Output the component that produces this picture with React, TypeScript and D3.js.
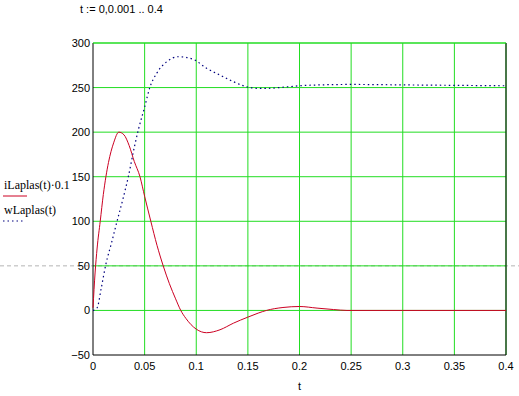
import React from 'react';
import { scaleLinear, line, curveMonotoneX } from 'd3';

// t values and readings of iLaplas(t)*0.1 (red, solid)
const tI = [0, 0.002, 0.004, 0.007, 0.01, 0.0125, 0.015, 0.02, 0.025, 0.03, 0.035, 0.04, 0.0455, 0.05, 0.056, 0.062, 0.068, 0.074, 0.08, 0.085, 0.09, 0.1, 0.11, 0.123, 0.136, 0.15, 0.16, 0.168, 0.184, 0.2, 0.217, 0.233, 0.246, 0.3, 0.4];
const iLaplas = [3, 42, 70, 100, 130, 150, 166, 188, 200, 197, 185, 167, 150, 128, 100, 73, 50, 30, 13, 0, -9, -21, -25, -21.7, -14.3, -7.5, -3, 0, 3.3, 4.4, 2.6, 1, 0, 0, 0];

// t values and readings of wLaplas(t) (blue, dotted)
const tW = [0, 0.004, 0.008, 0.0123, 0.018, 0.0235, 0.029, 0.0342, 0.04, 0.044, 0.05, 0.055, 0.0617, 0.0714, 0.0826, 0.0971, 0.11, 0.123, 0.136, 0.147, 0.1585, 0.17, 0.185, 0.2, 0.22, 0.25, 0.3, 0.35, 0.4];
const wLaplas = [0, 3, 25, 51, 76, 101, 125, 150, 183, 203, 228, 250, 266, 279, 284.6, 281.7, 271.6, 264, 256.6, 251.5, 249.2, 249.2, 250.5, 252, 253, 253.5, 253, 252.5, 252];

const xTicks = [0, 0.05, 0.1, 0.15, 0.2, 0.25, 0.3, 0.35, 0.4];
const xTickLabels = ['0', '0.05', '0.1', '0.15', '0.2', '0.25', '0.3', '0.35', '0.4'];
const yTicks = [-50, 0, 50, 100, 150, 200, 250, 300];

const W = 519, H = 396;
const left = 93, right = 506, top = 43, bottom = 355;

export default function App() {
  const x = scaleLinear().domain([0, 0.4]).range([left, right]);
  const y = scaleLinear().domain([-50, 300]).range([bottom, top]);

  const redLine = line<number>().x((_, i) => x(tI[i])).y((d) => y(d)).curve(curveMonotoneX);
  const blueLine = line<number>().x((_, i) => x(tW[i])).y((d) => y(d)).curve(curveMonotoneX);

  const grid = '#22dd22';
  const sans = 'Arial, "Liberation Sans", sans-serif';
  const serif = '"Times New Roman", "Liberation Serif", serif';

  return (
    <svg width={W} height={H} style={{ position: 'absolute', left: 0, top: 0, background: '#fff' }}>
      <text x={80} y={13} fontFamily={sans} fontSize={11}>t := 0,0.001 .. 0.4</text>

      {/* dashed region line */}
      <line x1={0} x2={W} y1={y(50)} y2={y(50)} stroke="#b4b4b4" strokeDasharray="4,3" />

      {/* grid */}
      {xTicks.slice(1).map((t) => (
        <line key={'gx' + t} x1={x(t)} x2={x(t)} y1={top} y2={bottom} stroke={grid} />
      ))}
      {yTicks.slice(1).map((v) => (
        <line key={'gy' + v} x1={left} x2={right} y1={y(v)} y2={y(v)} stroke={grid} />
      ))}

      {/* frame */}
      <line x1={left} x2={left} y1={top} y2={bottom} stroke="#000" />
      <line x1={left} x2={right} y1={bottom} y2={bottom} stroke="#000" />
      <line x1={right} x2={right} y1={top} y2={bottom} stroke="#000" />
      <line x1={left} x2={right} y1={top} y2={top} stroke={grid} />

      {/* curves */}
      <path d={redLine(iLaplas) || ''} fill="none" stroke="#cc0022" strokeWidth={1} />
      <path d={blueLine(wLaplas) || ''} fill="none" stroke="#00007f" strokeWidth={1.2} strokeDasharray="1.5,3" />

      {/* y tick labels */}
      {yTicks.map((v) => (
        <text key={'ly' + v} x={left - 3} y={y(v) + 4} textAnchor="end" fontFamily={sans} fontSize={11}>
          {v < 0 ? '\u2212' + Math.abs(v) : v}
        </text>
      ))}
      {/* x tick labels */}
      {xTicks.map((t, i) => (
        <text key={'lx' + t} x={x(t)} y={370} textAnchor="middle" fontFamily={sans} fontSize={11}>
          {xTickLabels[i]}
        </text>
      ))}
      <text x={x(0.2)} y={390} textAnchor="middle" fontFamily={sans} fontSize={11}>t</text>

      {/* legend */}
      <text x={4} y={189} fontFamily={serif} fontSize={12}>iLaplas(t)·0.1</text>
      <line x1={3} x2={27} y1={196} y2={196} stroke="#cc0022" />
      <text x={4} y={214} fontFamily={serif} fontSize={12}>wLaplas(t)</text>
      <line x1={3} x2={24} y1={221} y2={221} stroke="#00007f" strokeWidth={1.2} strokeDasharray="1.5,3" />
    </svg>
  );
}
